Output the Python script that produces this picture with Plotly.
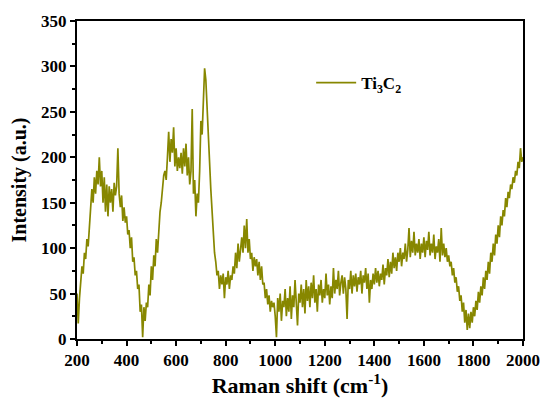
import plotly.graph_objects as go

# Raman shift sampling grid (cm^-1), 5 cm^-1 steps from 200 to 2000
raman_shift = list(range(200, 2001, 5))

# Measured intensity (a.u.) of Ti3C2, one row per 100 cm^-1
intensity = [
    50, 17, 45, 62, 80, 72, 95, 88, 110, 102, 128, 140, 165, 150, 178, 160, 185, 170, 200, 168,
    185, 150, 178, 140, 170, 135, 168, 150, 165, 140, 172, 158, 168, 210, 160, 145, 158, 130, 145, 128,
    135, 115, 120, 100, 112, 85, 90, 70, 75, 55, 60, 30, 38, 2, 35, 20, 40, 35, 60, 48,
    80, 65, 92, 80, 110, 95, 125, 140, 150, 170, 180, 185, 175, 200, 228, 195, 220, 205, 233, 190,
    210, 185, 200, 188, 205, 182, 210, 190, 215, 180, 200, 170, 185, 253, 160, 175, 135, 160, 150, 185,
    240, 225, 275, 298, 285, 260, 230, 195, 165, 140, 110, 95, 85, 70, 75, 55, 70, 60, 72, 45,
    68, 60, 75, 55, 70, 65, 80, 72, 95, 78, 105, 85, 98, 112, 95, 125, 100, 132, 95, 110,
    88, 95, 75, 90, 80, 88, 70, 85, 65, 80, 60, 62, 45, 55, 38, 48, 30, 42, 35, 40,
    25, 2, 45, 30, 50, 20, 42, 35, 55, 25, 45, 30, 58, 22, 48, 35, 65, 30, 15, 50,
    40, 60, 35, 55, 28, 65, 42, 58, 35, 62, 45, 70, 40, 55, 30, 60, 48, 65, 40, 55,
    45, 72, 48, 60, 38, 58, 45, 78, 50, 65, 55, 75, 48, 62, 70, 50, 68, 55, 22, 65,
    55, 75, 50, 70, 58, 72, 52, 68, 60, 75, 50, 70, 62, 78, 55, 72, 40, 65, 55, 72,
    60, 78, 62, 75, 58, 72, 65, 82, 60, 78, 70, 88, 68, 85, 72, 95, 78, 90, 75, 95,
    85, 100, 80, 95, 88, 105, 85, 98, 122, 90, 108, 95, 118, 92, 105, 95, 110, 88, 105, 95,
    112, 90, 108, 98, 118, 92, 105, 95, 115, 88, 102, 95, 110, 85, 122, 92, 105, 90, 100, 85,
    92, 80, 85, 70, 78, 62, 68, 52, 58, 42, 48, 30, 40, 18, 32, 10, 28, 12, 30, 18,
    35, 25, 42, 32, 52, 40, 58, 48, 68, 55, 75, 65, 85, 72, 95, 85, 105, 92, 115, 105,
    125, 112, 135, 125, 142, 135, 155, 145, 162, 155, 170, 165, 178, 172, 185, 180, 195, 188, 210, 195,
    200,
]

series_name = "<b>Ti<sub>3</sub>C<sub>2</sub></b>"
x_ticks = [200, 400, 600, 800, 1000, 1200, 1400, 1600, 1800, 2000]
y_ticks = [0, 50, 100, 150, 200, 250, 300, 350]

olive = "#878700"
serif = "Liberation Serif"

fig = go.Figure()
fig.add_trace(go.Scatter(
    x=raman_shift, y=intensity, mode="lines", name=series_name,
    line=dict(color=olive, width=1.7),
))

axis_common = dict(
    showline=True, linecolor="black", linewidth=2, mirror=True,
    ticks="outside", ticklen=5, tickwidth=2, tickcolor="black",
    showgrid=False, zeroline=False, automargin=False,
    tickfont=dict(family=serif, size=17, color="black"),
)

fig.update_xaxes(
    range=[200, 2000], tickvals=x_ticks,
    ticktext=[f"<b>{v}</b>" for v in x_ticks],
    minor=dict(ticks="outside", ticklen=3, tickwidth=1.5, tickcolor="black", dtick=100, tick0=200),
    title=dict(text="<b>Raman shift (cm<sup>-1</sup>)</b>",
               font=dict(family=serif, size=22, color="black"), standoff=12),
    **axis_common,
)
fig.update_yaxes(
    range=[0, 350], tickvals=y_ticks,
    ticktext=[f"<b>{v}</b>" for v in y_ticks],
    minor=dict(ticks="outside", ticklen=3, tickwidth=1.5, tickcolor="black", dtick=25, tick0=0),
    title=dict(text="<b>Intensity (a.u.)</b>",
               font=dict(family=serif, size=20, color="black"), standoff=9),
    **axis_common,
)

fig.update_layout(
    width=542, height=398,
    margin=dict(l=77, r=19, t=21, b=59),
    paper_bgcolor="white", plot_bgcolor="white",
    showlegend=True,
    legend=dict(
        x=0.525, y=0.805, xanchor="left", yanchor="middle",
        itemwidth=40,
        bgcolor="rgba(0,0,0,0)",
        font=dict(family=serif, size=17, color="black"),
    ),
)

fig.write_html("out.html")
